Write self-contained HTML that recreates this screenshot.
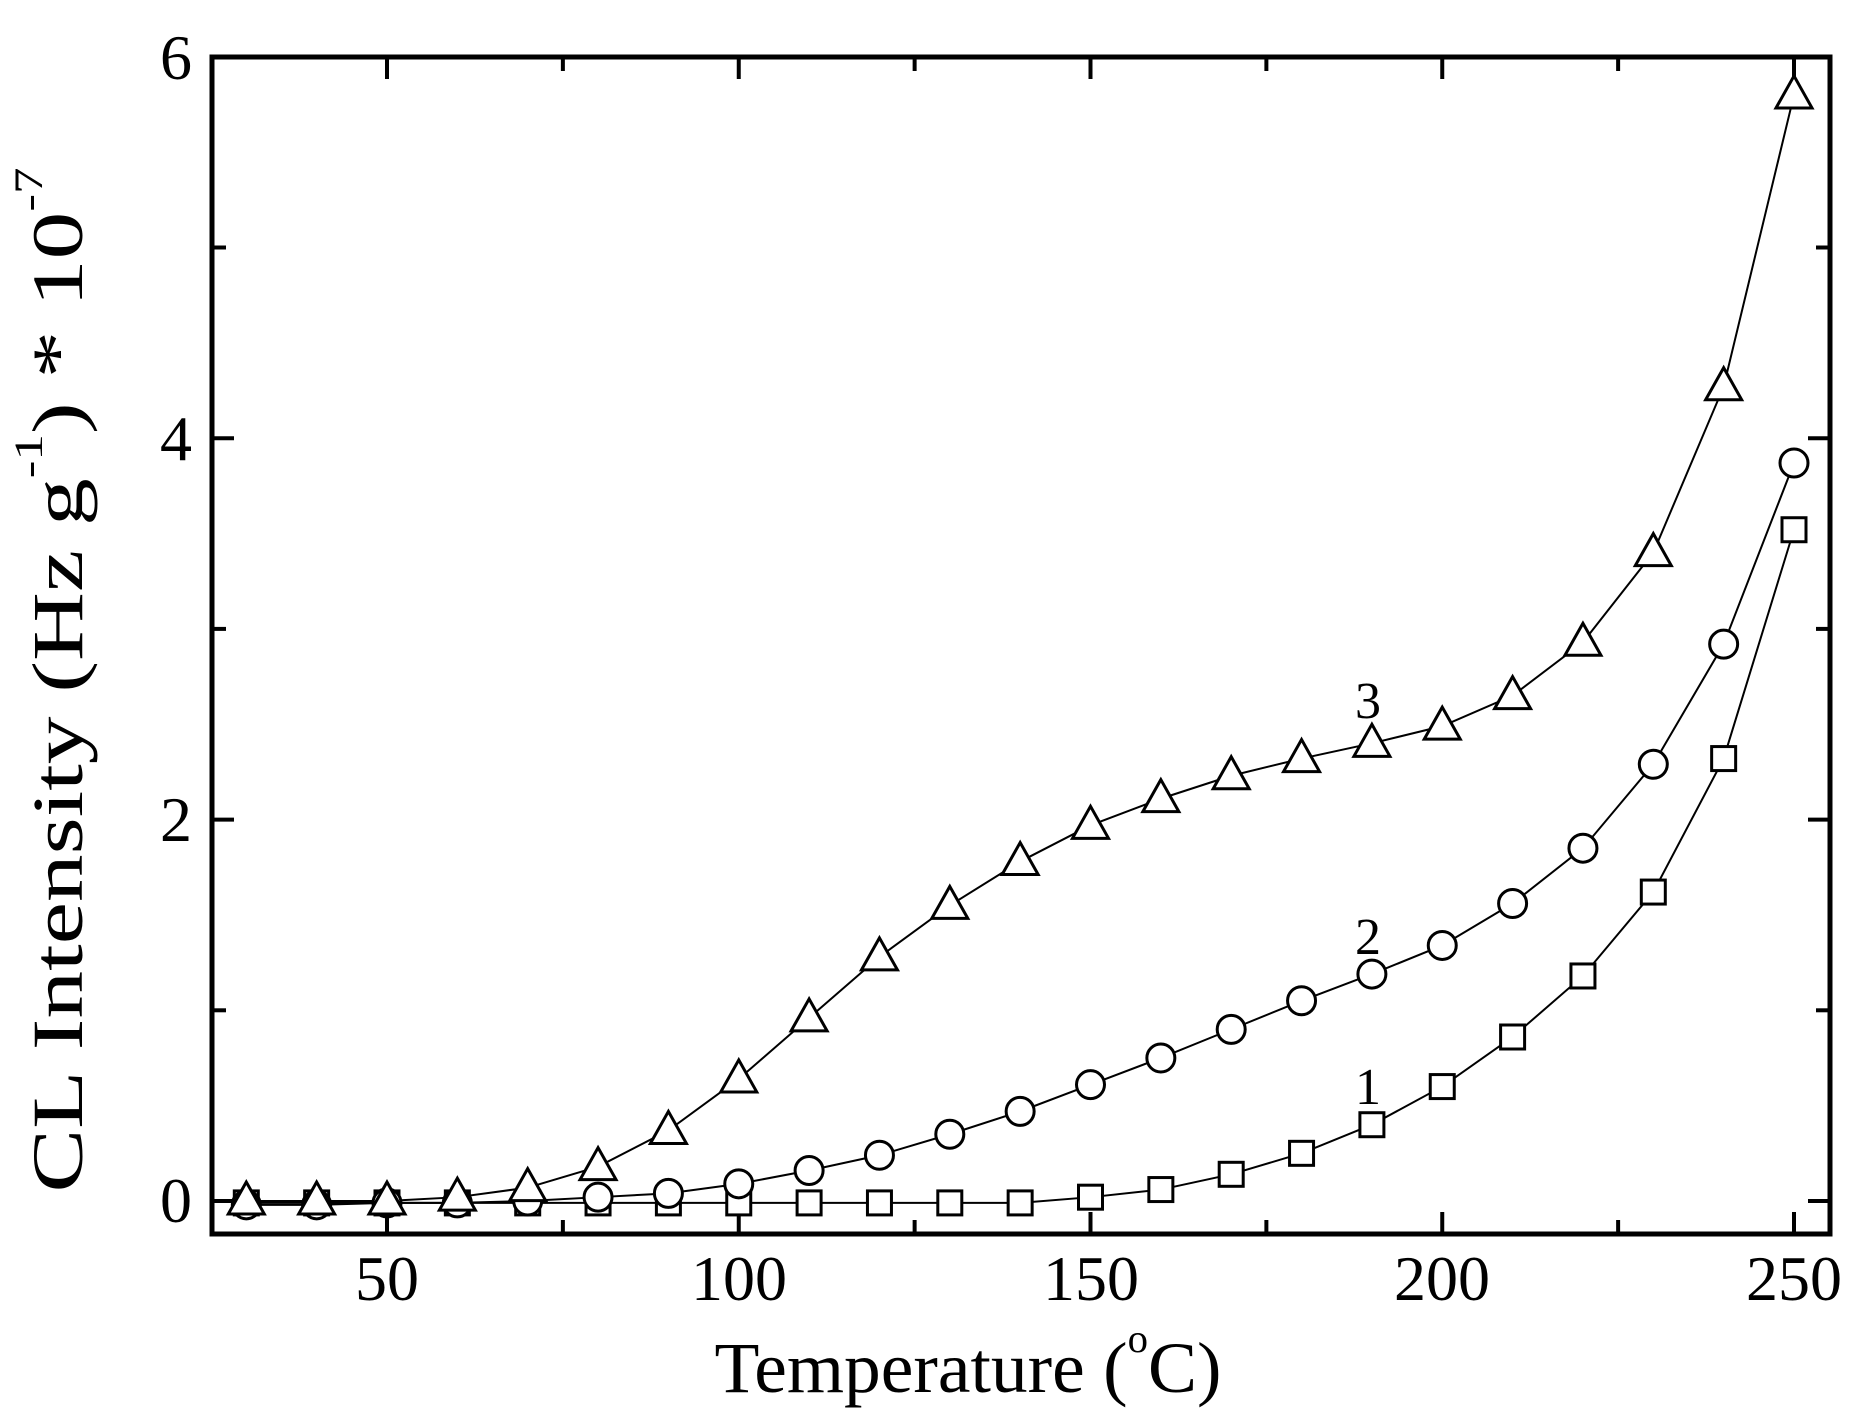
<!DOCTYPE html>
<html><head><meta charset="utf-8"><style>
html,body{margin:0;padding:0;background:#fff}
svg{display:block}
text{font-family:"Liberation Serif",serif;fill:#000}
</style></head><body>
<svg id="s" width="1850" height="1419" viewBox="0 0 1850 1419" xmlns="http://www.w3.org/2000/svg">
<rect x="0" y="0" width="1850" height="1419" fill="#fff"/>
<g id="g"></g>
<rect x="212" y="57" width="1618" height="1177" fill="none" stroke="#000" stroke-width="5"/>
<g font-size="64" text-anchor="middle">
<text x="387" y="1300">50</text>
<text x="739" y="1300">100</text>
<text x="1091" y="1300">150</text>
<text x="1442" y="1300">200</text>
<text x="1794" y="1300">250</text>
</g>
<g font-size="64" text-anchor="end">
<text x="192" y="1222">0</text>
<text x="192" y="841">2</text>
<text x="192" y="460">4</text>
<text x="192" y="79">6</text>
</g>
<text x="968" y="1392" font-size="72" text-anchor="middle" textLength="507" lengthAdjust="spacingAndGlyphs">Temperature (<tspan font-size="40" dy="-40">o</tspan><tspan dy="40">C)</tspan></text>
<text transform="translate(82,680) rotate(-90)" font-size="72" text-anchor="middle" textLength="1025" lengthAdjust="spacingAndGlyphs">CL Intensity (Hz g<tspan font-size="40" dy="-40">-1</tspan><tspan dy="40">) * 10</tspan><tspan font-size="40" dy="-40">-7</tspan></text>
<g font-size="52" text-anchor="middle">
<text x="1368" y="718">3</text>
<text x="1368" y="954">2</text>
<text x="1368" y="1104">1</text>
</g>
</svg>
<script>
var g=document.getElementById('g');
function X(t){return 387+(t-50)*7.035}
function Y(v){return 1201-v*190.7}
var h='';
for(var t=50;t<=250;t+=25){var x=X(t),L=(t%50==0)?22:14;
h+='<line x1="'+x+'" y1="1234" x2="'+x+'" y2="'+(1234-L)+'" stroke="#000" stroke-width="4"/>';
h+='<line x1="'+x+'" y1="57" x2="'+x+'" y2="'+(57+L)+'" stroke="#000" stroke-width="4"/>';}
for(var v=0;v<=6;v+=1){var y=Y(v),L=(v%2==0)?22:14;
h+='<line x1="212" y1="'+y+'" x2="'+(212+L)+'" y2="'+y+'" stroke="#000" stroke-width="4"/>';
h+='<line x1="1830" y1="'+y+'" x2="'+(1830-L)+'" y2="'+y+'" stroke="#000" stroke-width="4"/>';}
var T=[30,40,50,60,70,80,90,100,110,120,130,140,150,160,170,180,190,200,210,220,230,240,250];
var tri=[0,0,0,0.02,0.07,0.18,0.37,0.64,0.96,1.28,1.55,1.78,1.97,2.11,2.23,2.32,2.40,2.49,2.65,2.93,3.40,4.27,5.80];
var cir=[-0.02,-0.02,-0.01,-0.01,0,0.02,0.04,0.09,0.16,0.24,0.35,0.47,0.61,0.75,0.90,1.05,1.19,1.34,1.56,1.85,2.29,2.92,3.87];
var sq=[-0.01,-0.01,-0.01,-0.01,-0.01,-0.01,-0.01,-0.01,-0.01,-0.01,-0.01,-0.01,0.02,0.06,0.14,0.25,0.40,0.60,0.86,1.18,1.62,2.32,3.52];
function line(d){var p=T.map(function(t,i){return X(t)+','+Y(d[i])}).join(' ');
return '<polyline points="'+p+'" fill="none" stroke="#000" stroke-width="2"/>';}
h+=line(sq)+line(cir)+line(tri);
T.forEach(function(t,i){var x=X(t),y=Y(sq[i]);
h+='<rect x="'+(x-12)+'" y="'+(y-12)+'" width="24" height="24" fill="#fff" stroke="#000" stroke-width="3"/>';});
T.forEach(function(t,i){var x=X(t),y=Y(cir[i]);
h+='<circle cx="'+x+'" cy="'+y+'" r="14" fill="#fff" stroke="#000" stroke-width="3"/>';});
T.forEach(function(t,i){var x=X(t),y=Y(tri[i]);
h+='<polygon points="'+x+','+(y-19)+' '+(x-18)+','+(y+13)+' '+(x+18)+','+(y+13)+'" fill="#fff" stroke="#000" stroke-width="3"/>';});
g.innerHTML=h;
</script>
</body></html>
